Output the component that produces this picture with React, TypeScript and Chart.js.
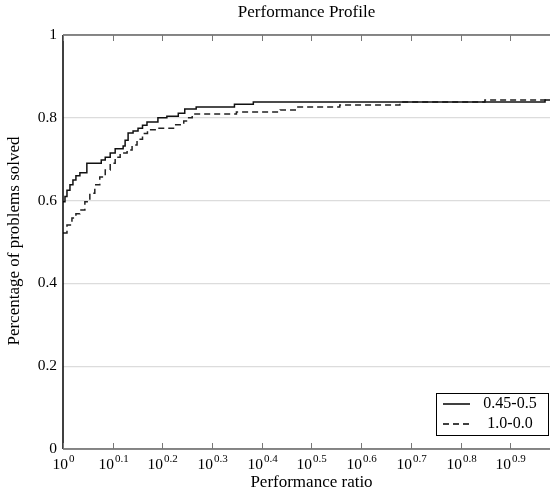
import React, { useEffect, useRef } from "react";
import { Chart, registerables } from "chart.js";

Chart.register(...registerables);

// log10(performance ratio) and fraction solved — series "0.45-0.5"
const solidX = [0.0, 0.004, 0.008, 0.014, 0.02, 0.026, 0.034, 0.048, 0.077, 0.085, 0.095, 0.105, 0.121, 0.125, 0.131, 0.141, 0.151, 0.16, 0.169, 0.191, 0.209, 0.232, 0.245, 0.268, 0.345, 0.383, 0.97, 0.98];
const solidY = [0.597, 0.61, 0.625, 0.638, 0.65, 0.66, 0.667, 0.69, 0.698, 0.705, 0.715, 0.725, 0.732, 0.746, 0.763, 0.768, 0.775, 0.782, 0.79, 0.8, 0.804, 0.811, 0.821, 0.826, 0.833, 0.838, 0.843, 0.843];

// series "1.0-0.0"
const dashedX = [0.0, 0.008, 0.018, 0.026, 0.034, 0.044, 0.054, 0.064, 0.074, 0.085, 0.095, 0.105, 0.115, 0.129, 0.139, 0.149, 0.16, 0.17, 0.19, 0.225, 0.243, 0.25, 0.26, 0.349, 0.437, 0.47, 0.557, 0.678, 0.849, 0.98];
const dashedY = [0.522, 0.541, 0.558, 0.568, 0.577, 0.597, 0.618, 0.638, 0.657, 0.674, 0.69, 0.705, 0.715, 0.722, 0.734, 0.748, 0.762, 0.771, 0.775, 0.783, 0.792, 0.8, 0.809, 0.814, 0.819, 0.826, 0.831, 0.838, 0.843, 0.843];

const seriesNames = ["0.45-0.5", "1.0-0.0"];
const xTickValues = [0, 0.1, 0.2, 0.3, 0.4, 0.5, 0.6, 0.7, 0.8, 0.9];
const xTickExponents = ["0", "0.1", "0.2", "0.3", "0.4", "0.5", "0.6", "0.7", "0.8", "0.9"];
const yTickValues = [0, 0.2, 0.4, 0.6, 0.8, 1];
const yTickLabels = ["0", "0.2", "0.4", "0.6", "0.8", "1"];

const titleText = "Performance Profile";
const xTitle = "Performance ratio";
const yTitle = "Percentage of problems solved";

const FONT = "'Liberation Serif', 'DejaVu Serif', serif";

const decorPlugin = {
  id: "decor",
  afterDraw(chart: any) {
    const ctx = chart.ctx as CanvasRenderingContext2D;
    const { left, right, top, bottom } = chart.chartArea;
    const xs = chart.scales.x;
    const ys = chart.scales.y;
    ctx.save();
    // frame
    ctx.lineWidth = 1.5;
    ctx.strokeStyle = "#666";
    ctx.beginPath();
    ctx.moveTo(left, top);
    ctx.lineTo(right, top);
    ctx.moveTo(left, bottom);
    ctx.lineTo(right, bottom);
    ctx.stroke();
    ctx.strokeStyle = "#000";
    ctx.beginPath();
    ctx.moveTo(left, top);
    ctx.lineTo(left, bottom);
    ctx.stroke();
    // x ticks
    ctx.lineWidth = 1;
    ctx.strokeStyle = "#777";
    ctx.fillStyle = "#000";
    xTickValues.forEach((v, i) => {
      const px = Math.round(xs.getPixelForValue(v)) + 0.5;
      ctx.beginPath();
      ctx.moveTo(px, bottom);
      ctx.lineTo(px, bottom - 6);
      ctx.moveTo(px, top);
      ctx.lineTo(px, top + 6);
      ctx.stroke();
      ctx.font = `15.5px ${FONT}`;
      const baseW = ctx.measureText("10").width;
      ctx.font = `11px ${FONT}`;
      const expW = ctx.measureText(xTickExponents[i]).width;
      const total = baseW + expW + 1;
      const x0 = px - total / 2;
      ctx.textAlign = "left";
      ctx.textBaseline = "alphabetic";
      ctx.font = `15.5px ${FONT}`;
      ctx.fillText("10", x0, bottom + 20);
      ctx.font = `11px ${FONT}`;
      ctx.fillText(xTickExponents[i], x0 + baseW + 1, bottom + 13);
    });
    // y labels
    ctx.font = `15.5px ${FONT}`;
    ctx.textAlign = "right";
    ctx.textBaseline = "middle";
    yTickValues.forEach((v, i) => {
      const py = ys.getPixelForValue(v);
      ctx.fillText(yTickLabels[i], left - 6, py);
    });
    // titles
    ctx.textAlign = "center";
    ctx.textBaseline = "middle";
    const cx = (left + right) / 2;
    ctx.font = `17px ${FONT}`;
    ctx.fillText(titleText, cx, 13);
    ctx.fillText(xTitle, cx + 5, bottom + 34);
    ctx.save();
    ctx.translate(15, (top + bottom) / 2 - 1);
    ctx.rotate(-Math.PI / 2);
    ctx.fillText(yTitle, 0, 0);
    ctx.restore();
    // legend
    const lx = right - 114;
    const ly = bottom - 56;
    const lw = 112;
    const lh = 42;
    ctx.fillStyle = "#fff";
    ctx.fillRect(lx, ly, lw, lh);
    ctx.strokeStyle = "#000";
    ctx.lineWidth = 1;
    ctx.strokeRect(lx + 0.5, ly + 0.5, lw, lh);
    ctx.lineWidth = 1.5;
    ctx.beginPath();
    ctx.moveTo(lx + 7, ly + 11);
    ctx.lineTo(lx + 34, ly + 11);
    ctx.stroke();
    ctx.setLineDash([6, 4]);
    ctx.beginPath();
    ctx.moveTo(lx + 7, ly + 31);
    ctx.lineTo(lx + 34, ly + 31);
    ctx.stroke();
    ctx.setLineDash([]);
    ctx.fillStyle = "#000";
    ctx.font = `16px ${FONT}`;
    ctx.textAlign = "center";
    ctx.textBaseline = "middle";
    ctx.fillText(seriesNames[0], lx + 74, ly + 11);
    ctx.fillText(seriesNames[1], lx + 74, ly + 31);
    ctx.restore();
  },
};

export default function App() {
  const ref = useRef<HTMLCanvasElement | null>(null);
  useEffect(() => {
    document.body.style.margin = "0";
    const canvas = ref.current;
    if (!canvas) return;
    const chart = new Chart(canvas, {
      type: "line",
      data: {
        datasets: [
          {
            label: seriesNames[0],
            data: solidX.map((x, i) => ({ x, y: solidY[i] })),
            borderColor: "#111",
            borderWidth: 1.5,
            pointRadius: 0,
            stepped: true,
            fill: false,
          },
          {
            label: seriesNames[1],
            data: dashedX.map((x, i) => ({ x, y: dashedY[i] })),
            borderColor: "#222",
            borderWidth: 1.5,
            borderDash: [6, 4],
            pointRadius: 0,
            stepped: true,
            fill: false,
          },
        ],
      },
      options: {
        animation: false,
        responsive: false,
        layout: { padding: { left: 63, top: 35, right: 0, bottom: 46 } },
        plugins: { legend: { display: false }, tooltip: { enabled: false }, title: { display: false } },
        scales: {
          x: { type: "linear", min: 0, max: 0.98, display: false },
          y: {
            type: "linear",
            min: 0,
            max: 1,
            ticks: { display: false, stepSize: 0.2 },
            grid: { color: "#dcdcdc", lineWidth: 1.2, drawTicks: false },
            border: { display: false },
          },
        },
      },
      plugins: [decorPlugin],
    });
    return () => chart.destroy();
  }, []);
  return (
    <div style={{ width: 550, height: 495 }}>
      <canvas ref={ref} width={550} height={495} style={{ display: "block" }} />
    </div>
  );
}
